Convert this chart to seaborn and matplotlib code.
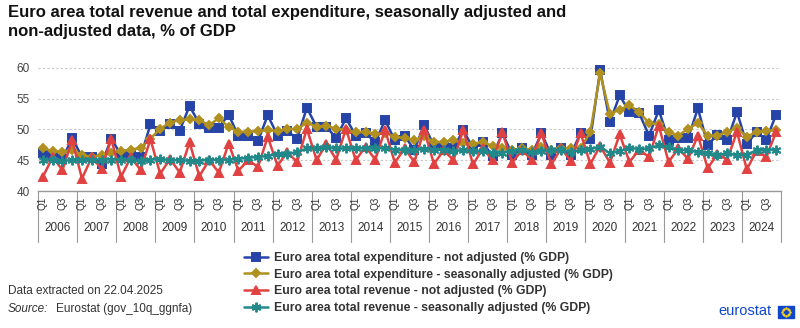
import numpy as np
import pandas as pd
import matplotlib
matplotlib.use("Agg")
import matplotlib.pyplot as plt
import matplotlib.transforms as mtransforms
from matplotlib.lines import Line2D
from matplotlib.patches import Rectangle
import seaborn as sns

years = list(range(2006, 2025))
quarters = [f"{y}Q{q}" for y in years for q in range(1, 5)]

exp_nsa = [46.2, 45.6, 45.2, 48.6, 45.5, 45.5, 44.4, 48.5, 45.8, 45.8, 45.5, 50.8, 49.7,
           50.8, 49.8, 53.8, 50.9, 50.2, 50.3, 52.4, 48.9, 48.9, 48.1, 52.3, 49.0,
           49.7, 48.5, 53.5, 50.4, 50.4, 48.6, 51.8, 49.0, 49.4, 47.9, 51.5, 48.2, 48.9,
           46.7, 50.7, 47.3, 47.3, 46.9, 49.9, 46.9, 47.9, 45.6, 49.4, 45.9, 46.9,
           45.8, 49.4, 45.8, 47.0, 45.9, 49.4, 48.5, 59.6, 51.2, 55.5, 52.8, 52.6, 49.0,
           53.1, 48.3, 48.6, 48.6, 53.4, 47.5, 49.1, 48.2, 52.8, 47.6, 49.6, 48.3, 52.4]
exp_sa = [46.9, 46.5, 46.3, 46.7, 45.8, 45.5, 45.8, 46.2, 46.5, 46.7, 47.0, 48.5, 50.1,
          51.1, 51.5, 51.6, 51.5, 50.7, 51.8, 50.4, 49.6, 49.6, 49.7, 49.9, 49.7,
          50.1, 50.0, 51.1, 50.4, 50.6, 50.1, 49.9, 49.5, 49.6, 49.2, 49.4, 48.8, 48.6,
          48.2, 48.9, 47.9, 48.0, 48.2, 47.8, 47.7, 47.9, 47.3, 46.9, 46.7, 46.9,
          46.7, 47.1, 46.7, 46.9, 47.0, 46.9, 49.6, 59.1, 52.5, 53.2, 53.9, 52.8, 51.0,
          50.8, 49.6, 49.0, 50.1, 51.0, 49.0, 49.0, 49.6, 50.2, 48.8, 49.6, 49.7, 49.9]
rev_nsa = [42.3, 45.5, 43.4, 48.2, 42.0, 45.5, 43.6, 48.4, 42.3, 45.5, 43.4, 48.4, 42.8,
           45.2, 43.0, 47.9, 42.4, 45.0, 43.0, 47.7, 43.3, 45.0, 43.9, 48.8, 44.1,
           46.3, 44.7, 50.1, 45.0, 47.7, 45.1, 50.1, 45.0, 47.2, 45.1, 49.9, 44.6, 46.9,
           44.7, 49.9, 44.4, 46.6, 45.0, 49.9, 44.3, 46.9, 45.0, 49.5, 44.6, 46.6,
           45.1, 49.4, 44.3, 46.9, 44.9, 49.4, 44.4, 47.3, 44.6, 49.2, 44.7, 46.7, 45.5,
           50.6, 44.7, 46.9, 45.2, 49.0, 43.7, 46.0, 45.1, 49.6, 43.5, 46.5, 45.5, 49.6]
rev_sa = [45.1, 45.0, 44.9, 45.0, 45.0, 45.1, 45.1, 45.1, 45.1, 45.0, 44.8, 45.1, 45.2,
          45.0, 45.0, 44.9, 44.9, 45.1, 45.0, 45.1, 45.2, 45.4, 45.5, 45.7, 46.0,
          46.0, 46.3, 46.9, 46.9, 47.2, 46.9, 46.9, 46.9, 47.0, 46.9, 47.0, 46.7, 46.7,
          46.7, 46.8, 46.7, 46.7, 46.5, 46.6, 46.5, 46.5, 46.1, 46.2, 46.5, 46.7,
          46.3, 46.5, 46.6, 46.7, 46.3, 46.6, 46.8, 47.2, 46.1, 46.5, 47.0, 46.8, 46.9,
          47.4, 47.1, 46.7, 46.6, 46.3, 46.1, 45.8, 46.1, 45.8, 45.9, 46.6, 46.7, 46.7]

series_labels = ["Euro area total expenditure - not adjusted (% GDP)",
                 "Euro area total expenditure - seasonally adjusted (% GDP)",
                 "Euro area total revenue - not adjusted (% GDP)",
                 "Euro area total revenue - seasonally adjusted (% GDP)"]
series_values = [exp_nsa, exp_sa, rev_nsa, rev_sa]
colors = ["#2644A7", "#B09120", "#E04242", "#22898A"]
markers = ["s", "D", "^", (6, 2, 0)]
msizes = [5.5, 4.5, 6, 7]

sns.set_theme(style="white")
plt.rcParams["font.family"] = ["Liberation Sans", "DejaVu Sans"]

fig = plt.figure(figsize=(8, 3.28), dpi=100)
ax = fig.add_axes([38 / 800, 1 - 191 / 328, 743 / 800, 127 / 328])

idx = np.arange(len(quarters))
for lab, vals, c, m, ms in zip(series_labels, series_values, colors, markers, msizes):
    df = pd.DataFrame({"q": idx, "value": vals})
    sns.lineplot(data=df, x="q", y="value", ax=ax, color=c, marker=m,
                 markersize=ms, markeredgecolor=c, markerfacecolor=c,
                 markeredgewidth=1.4, linewidth=1.8, legend=False)

ax.set_xlim(-0.5, len(quarters) - 0.5)
ax.set_ylim(40, 60.6)
ax.set_yticks([40, 45, 50, 55, 60])
ax.yaxis.grid(True, color="#c8c8c8", linestyle=(0, (2, 2)), linewidth=0.8)
ax.set_axisbelow(True)
for s in ["left", "right", "top"]:
    ax.spines[s].set_visible(False)
ax.spines["bottom"].set_color("#999999")
ax.spines["bottom"].set_linewidth(1.0)
ax.tick_params(axis="y", length=0, labelsize=8.5, labelcolor="#444444", pad=6)
ax.set_xticks(np.arange(-0.5, len(quarters), 1))
ax.set_xticklabels([])
ax.tick_params(axis="x", length=15, width=0.8, color="#999999", direction="out")
ax.set_xlabel("")
ax.set_ylabel("")

trans = mtransforms.blended_transform_factory(ax.transData, ax.transAxes)
for i, q in enumerate(quarters):
    qq = q[-2:]
    if qq in ("Q1", "Q3"):
        ax.text(i, -0.095, qq, transform=trans, rotation=90, ha="center", va="center",
                fontsize=7.2, color="#333333")
for k, y in enumerate(years):
    ax.text(4 * k + 1.5, -0.295, str(y), transform=trans, ha="center", va="center",
            fontsize=8.5, color="#333333")
for k in range(len(years) + 1):
    ax.plot([4 * k - 0.5, 4 * k - 0.5], [0, -0.40], transform=trans, color="#999999",
            linewidth=0.8, clip_on=False)

fig.text(8 / 800, 1 - 5 / 328,
         "Euro area total revenue and total expenditure, seasonally adjusted and\nnon-adjusted data, % of GDP",
         ha="left", va="top", fontsize=12, fontweight="bold", color="#111111", linespacing=1.3)

handles = [Line2D([0], [0], color=c, marker=m, markersize=ms, markeredgecolor=c,
                  markerfacecolor=c, markeredgewidth=1.4, linewidth=1.8)
           for c, m, ms in zip(colors, markers, msizes)]
leg = fig.legend(handles, series_labels, loc="upper left",
                 bbox_to_anchor=(244 / 800, 1 - 252 / 328), frameon=False,
                 prop={"size": 8.8, "weight": "bold"}, handlelength=2.0,
                 handletextpad=0.45, labelspacing=0.38, borderaxespad=0,
                 borderpad=0)
for t in leg.get_texts():
    t.set_color("#333333")

fig.text(8 / 800, 1 - 291 / 328, "Data extracted on 22.04.2025", ha="left", va="center",
         fontsize=8.5, color="#333333")
fig.text(8 / 800, 1 - 309 / 328, "Source:", ha="left", va="center", fontsize=8.5,
         style="italic", color="#333333")
fig.text(56 / 800, 1 - 309 / 328, "Eurostat (gov_10q_ggnfa)", ha="left", va="center",
         fontsize=8.5, color="#333333")

fig.text(718 / 800, 1 - 311 / 328, "eurostat", ha="left", va="center", fontsize=10.5,
         color="#0E47CB")
fig.patches.append(Rectangle((778 / 800, 1 - 318 / 328), 16 / 800, 12 / 328,
                             transform=fig.transFigure, color="#0E47CB", figure=fig))
ang = np.linspace(0, 2 * np.pi, 12, endpoint=False)
cx, cy = 786, 312
fig.add_artist(Line2D((cx + 3.6 * np.cos(ang)) / 800, 1 - (cy + 3.6 * np.sin(ang)) / 328,
                      transform=fig.transFigure, linestyle="none", marker=".",
                      markersize=1.5, color="#FFD617"))

fig.savefig("out.png", dpi=100)
